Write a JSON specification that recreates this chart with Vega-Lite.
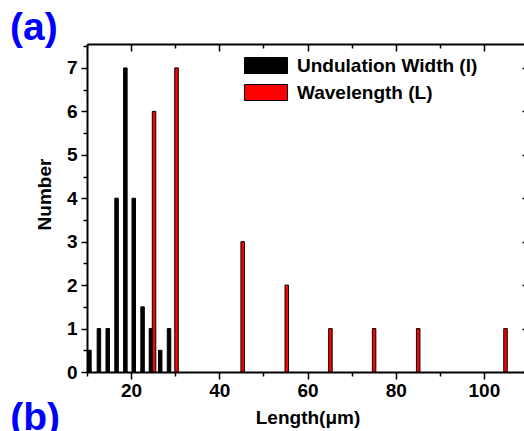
{
  "$schema": "https://vega.github.io/schema/vega-lite/v6.json",
  "width": 441,
  "height": 328,
  "autosize": {"type": "none"},
  "padding": {"left": 87, "top": 44, "right": 0, "bottom": 59},
  "background": "white",
  "config": {
    "view": {"stroke": null},
    "font": "Liberation Sans",
    "axis": {
      "grid": false,
      "domainColor": "black",
      "domainWidth": 2,
      "tickColor": "black",
      "tickWidth": 1.5,
      "labelFont": "Liberation Sans",
      "labelFontWeight": "bold",
      "labelFontSize": 19,
      "labelColor": "black",
      "titleFont": "Liberation Sans",
      "titleFontWeight": "bold",
      "titleFontSize": 19,
      "titleColor": "black"
    }
  },
  "datasets": {
    "bars": [
      {"series": "Undulation Width (l)", "length": 10.55, "count": 0.5},
      {"series": "Undulation Width (l)", "length": 12.7, "count": 1},
      {"series": "Undulation Width (l)", "length": 14.7, "count": 1},
      {"series": "Undulation Width (l)", "length": 16.7, "count": 4},
      {"series": "Undulation Width (l)", "length": 18.7, "count": 7},
      {"series": "Undulation Width (l)", "length": 20.6, "count": 4},
      {"series": "Undulation Width (l)", "length": 22.6, "count": 1.5},
      {"series": "Undulation Width (l)", "length": 24.5, "count": 1},
      {"series": "Undulation Width (l)", "length": 26.6, "count": 0.5},
      {"series": "Undulation Width (l)", "length": 28.6, "count": 1},
      {"series": "Wavelength (L)", "length": 25.2, "count": 6},
      {"series": "Wavelength (L)", "length": 30.3, "count": 7},
      {"series": "Wavelength (L)", "length": 45.3, "count": 3},
      {"series": "Wavelength (L)", "length": 55.3, "count": 2},
      {"series": "Wavelength (L)", "length": 65.2, "count": 1},
      {"series": "Wavelength (L)", "length": 75.1, "count": 1},
      {"series": "Wavelength (L)", "length": 85.1, "count": 1},
      {"series": "Wavelength (L)", "length": 104.9, "count": 1}
    ],
    "panels": [
      {"label": "(a)", "x": -2.06, "y": 7.92},
      {"label": "(b)", "x": -1.75, "y": -1.05}
    ]
  },
  "layer": [
    {
      "data": {"name": "bars"},
      "transform": [{"filter": "datum.series === 'Undulation Width (l)'"}],
      "mark": {"type": "bar", "size": 3.5, "stroke": "black", "strokeWidth": 1},
      "encoding": {
        "x": {
          "field": "length", "type": "quantitative",
          "scale": {"domain": [10, 110], "nice": false, "zero": false, "padding": 0},
          "axis": {
            "orient": "bottom",
            "values": [10, 20, 30, 40, 50, 60, 70, 80, 90, 100, 110],
            "labelExpr": "datum.value % 20 === 0 ? datum.value : ''",
            "tickSize": {"condition": {"test": "datum.value % 20 === 0", "value": 7}, "value": 4},
            "labelPadding": 2,
            "title": "Length(μm)",
            "titlePadding": 8
          }
        },
        "y": {
          "field": "count", "type": "quantitative",
          "scale": {"domain": [0, 7.55], "nice": false, "padding": 0},
          "axis": {
            "orient": "left",
            "values": [0, 0.5, 1, 1.5, 2, 2.5, 3, 3.5, 4, 4.5, 5, 5.5, 6, 6.5, 7, 7.5],
            "labelExpr": "datum.value % 1 === 0 ? datum.value : ''",
            "tickSize": {"condition": {"test": "datum.value % 1 === 0", "value": 6}, "value": 4},
            "labelPadding": 4,
            "title": "Number",
            "titlePadding": 12,
            "titleY": 150
          }
        },
        "color": {
          "field": "series", "type": "nominal",
          "scale": {"domain": ["Undulation Width (l)", "Wavelength (L)"], "range": ["#000000", "#ff0000"]},
          "legend": {
            "orient": "none",
            "legendX": 169.5,
            "legendY": 12,
            "title": null,
            "padding": 0,
            "symbolType": "M-2.69,-1L2.69,-1L2.69,1L-2.69,1Z",
            "symbolSize": 256,
            "symbolStrokeColor": "black",
            "symbolStrokeWidth": 1,
            "labelOffset": 21.5,
            "labelFont": "Liberation Sans",
            "labelFontWeight": "bold",
            "labelFontSize": 19,
            "labelColor": "black",
            "labelLimit": 400,
            "rowPadding": 6
          }
        }
      }
    },
    {
      "data": {"name": "bars"},
      "transform": [{"filter": "datum.series === 'Wavelength (L)'"}],
      "mark": {"type": "bar", "size": 3.5, "stroke": "black", "strokeWidth": 1},
      "encoding": {
        "x": {
          "field": "length", "type": "quantitative",
          "axis": {
            "orient": "top",
            "values": [10, 20, 30, 40, 50, 60, 70, 80, 90, 100, 110],
            "labels": false,
            "tickSize": {"condition": {"test": "datum.value % 20 === 0", "value": -7}, "value": -4},
            "title": null
          }
        },
        "y": {
          "field": "count", "type": "quantitative",
          "axis": {
            "orient": "right",
            "values": [0, 0.5, 1, 1.5, 2, 2.5, 3, 3.5, 4, 4.5, 5, 5.5, 6, 6.5, 7, 7.5],
            "labels": false,
            "tickSize": {"condition": {"test": "datum.value % 1 === 0", "value": -6}, "value": -4},
            "title": null
          }
        },
        "color": {"field": "series", "type": "nominal"}
      }
    },
    {
      "data": {"name": "panels"},
      "mark": {"type": "text", "clip": false, "font": "Liberation Sans", "fontWeight": "bold", "fontSize": 39, "color": "#0000ff", "align": "center", "baseline": "middle"},
      "encoding": {
        "x": {"field": "x", "type": "quantitative", "axis": null},
        "y": {"field": "y", "type": "quantitative", "axis": null},
        "text": {"field": "label"}
      }
    }
  ],
  "resolve": {"axis": {"x": "independent", "y": "independent"}}
}
